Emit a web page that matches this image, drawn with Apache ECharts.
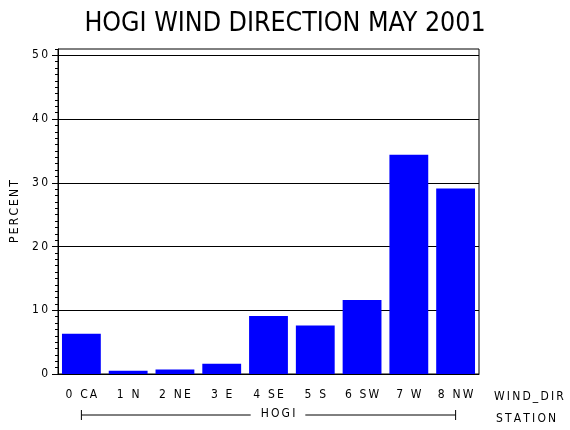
<!DOCTYPE html>
<html>
<head>
<meta charset="utf-8">
<script src="https://cdn.jsdelivr.net/npm/echarts@6/dist/echarts.min.js"></script>
<style>
  html, body { margin: 0; padding: 0; background: #fff; }
  #chart { width: 570px; height: 430px; }
</style>
</head>
<body>
<div id="chart"></div>
<script>
const windDirs = ["0 CA", "1 N", "2 NE", "3 E", "4 SE", "5 S", "6 SW", "7 W", "8 NW"];
const percents = [6.3, 0.5, 0.7, 1.6, 9.1, 7.6, 11.6, 34.4, 29.1];
const yTicks = [0, 10, 20, 30, 40, 50];
const stationSpan = ["0 CA", "8 NW"];
const stationName = "HOGI";

const FONT = "'DejaVu Sans Condensed', 'DejaVu Sans', sans-serif";

// SAS-style wide lettering: thin space between every character
const spaced = (s) => s.split("").join("\u2009");

const chartDom = document.getElementById("chart");
const myChart = echarts.init(chartDom, null, { renderer: "canvas" });

const small = { fontFamily: FONT, fontSize: 12, fontWeight: "normal", color: "#000" };

const option = {
  backgroundColor: "#fff",
  animation: false,
  textStyle: { fontFamily: FONT, color: "#000" },
  title: [
    {
      text: "HOGI WIND DIRECTION MAY 2001",
      left: "center",
      top: 6,
      textStyle: { fontFamily: FONT, fontSize: 26.5, fontWeight: "normal", color: "#000" },
    },
    {
      text: spaced("WIND_DIR"),
      left: 489,
      top: 386,
      textStyle: small,
    },
    {
      text: spaced("STATION"),
      left: 491,
      top: 408,
      textStyle: small,
    },
    {
      text: spaced(stationName),
      left: 268,
      top: 408,
      textAlign: "center",
      backgroundColor: "#fff",
      padding: [0, 10],
      textStyle: small,
    },
  ],
  grid: [
    {
      left: 58,
      right: 91,
      top: 49,
      bottom: 56,
      show: true,
      borderColor: "#000",
      borderWidth: 1,
    },
    {
      left: 58,
      right: 91,
      top: 410,
      height: 10,
    },
  ],
  xAxis: [
    {
      type: "category",
      data: windDirs,
      gridIndex: 0,
      axisLine: { lineStyle: { color: "#000", width: 1 } },
      axisTick: { show: false },
      axisLabel: {
        color: "#000",
        fontFamily: FONT,
        fontSize: 12,
        margin: 15,
        interval: 0,
        formatter: (v) => spaced(v),
      },
    },
    {
      type: "category",
      data: windDirs,
      gridIndex: 1,
      show: false,
    },
  ],
  yAxis: [
    {
      type: "value",
      gridIndex: 0,
      min: 0,
      max: 51,
      interval: 10,
      name: spaced("PERCENT"),
      nameLocation: "middle",
      nameGap: 27,
      nameTextStyle: { fontFamily: FONT, fontSize: 12, color: "#000" },
      axisLine: { show: true, lineStyle: { color: "#000", width: 1 } },
      axisTick: { show: true, length: 6, customValues: yTicks, lineStyle: { color: "#000" } },
      axisLabel: {
        color: "#000",
        fontFamily: FONT,
        fontSize: 12,
        margin: 10,
        customValues: yTicks,
        formatter: (v) => spaced(String(v)),
      },
      splitLine: { show: true, lineStyle: { color: "#000", width: 1 } },
    },
    {
      // minor ticks, one per percent
      type: "value",
      gridIndex: 0,
      min: 0,
      max: 51,
      interval: 1,
      position: "left",
      axisLine: { show: false },
      axisTick: { show: true, length: 3, lineStyle: { color: "#000" } },
      axisLabel: { show: false },
      splitLine: { show: false },
    },
    {
      type: "value",
      gridIndex: 1,
      min: -1,
      max: 1,
      show: false,
    },
  ],
  series: [
    {
      type: "bar",
      data: percents,
      xAxisIndex: 0,
      yAxisIndex: 0,
      barCategoryGap: "17%",
      itemStyle: { color: "#0000ff" },
      silent: true,
    },
    {
      type: "line",
      xAxisIndex: 1,
      yAxisIndex: 2,
      data: stationSpan.map((c) => [c, 0]),
      symbol: "rect",
      symbolSize: [1, 10],
      itemStyle: { color: "#000" },
      lineStyle: { color: "#000", width: 1 },
      silent: true,
    },
  ],
};

option && myChart.setOption(option);
</script>
</body>
</html>
